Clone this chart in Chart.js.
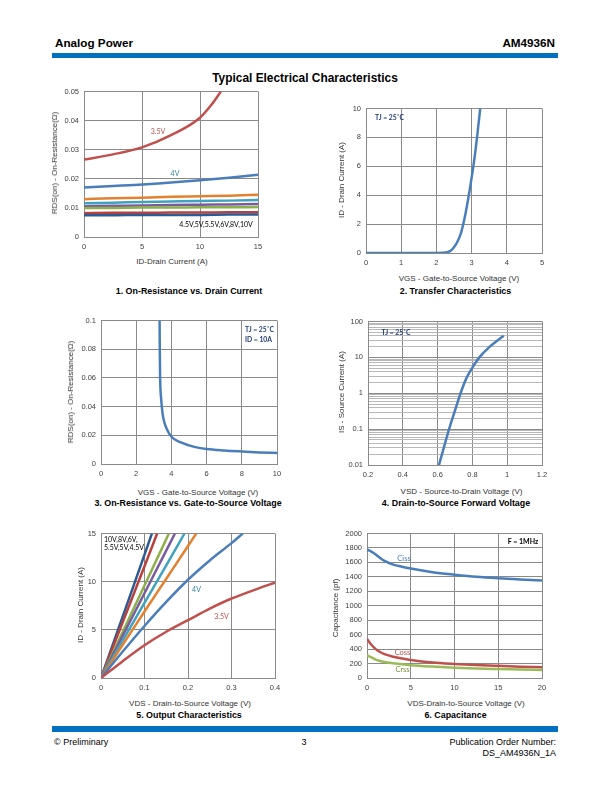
<!DOCTYPE html>
<html>
<head>
<meta charset="utf-8">
<script src="https://cdn.jsdelivr.net/npm/chart.js@4"></script>
<style>
  body { margin: 0; background: #fff; }
  #page { position: relative; width: 612px; height: 792px; overflow: hidden; font-family: "Liberation Sans", Arial, sans-serif; color: #000; }
  .t { position: absolute; white-space: nowrap; line-height: 1; }
  .bar { position: absolute; left: 52px; width: 506px; background: #0070C0; }
  canvas { position: absolute; }
</style>
</head>
<body>
<div id="page"></div>
<script>
// 🔹 DATA

// 1. On-Resistance vs. Drain Current
const idCurrent = [0, 2.5, 5, 7.5, 10, 12.5, 15];
const id35 = [0, 2.5, 5, 7.5, 10, 11, 11.8];
const rds35 = [0.0266, 0.0284, 0.0308, 0.0350, 0.0410, 0.0455, 0.0500];
const rds4 = [0.0170, 0.0175, 0.0180, 0.0187, 0.0195, 0.0204, 0.0214];
const rds45 = [0.0130, 0.0133, 0.0135, 0.0138, 0.0140, 0.0142, 0.0145];
const rds5 = [0.0116, 0.0118, 0.0120, 0.0122, 0.0124, 0.0125, 0.0127];
const rds55 = [0.0106, 0.0107, 0.0108, 0.0110, 0.0111, 0.0112, 0.0113];
const rds6 = [0.0100, 0.0100, 0.0101, 0.0101, 0.0102, 0.0102, 0.0103];
const rds8 = [0.0082, 0.0083, 0.0083, 0.0084, 0.0084, 0.0085, 0.0085];
const rds10 = [0.0075, 0.0075, 0.0076, 0.0076, 0.0076, 0.0077, 0.0077];

// 2. Transfer Characteristics
const vgsTransfer = [0, 1, 2, 2.2, 2.4, 2.5, 2.6, 2.7, 2.8, 2.9, 3.0, 3.1, 3.2, 3.245];
const idTransfer = [0, 0, 0, 0.01, 0.15, 0.4, 0.8, 1.4, 2.4, 3.7, 5.2, 6.9, 9.0, 10];

// 3. On-Resistance vs. Gate-to-Source Voltage
const vgsRds = [3.33, 3.34, 3.36, 3.42, 3.5, 3.6, 3.75, 4, 4.5, 5, 5.5, 6, 7, 8, 9, 10];
const rdsVgs = [0.1, 0.08, 0.06, 0.045, 0.035, 0.029, 0.024, 0.019, 0.0152, 0.0130, 0.0114, 0.0104, 0.0094, 0.0087, 0.0081, 0.0076];

// 4. Drain-to-Source Forward Voltage
const vsd = [0.608, 0.637, 0.666, 0.699, 0.732, 0.765, 0.8, 0.84, 0.9, 0.95, 0.98];
const isCurrent = [0.01, 0.032, 0.1, 0.32, 1, 2.6, 5.2, 10, 20, 31, 40];
const isDecades = [0.01, 0.1, 1, 10, 100];

// 5. Output Characteristics
const vds10 = [0, 0.05, 0.1, 0.117];
const out10 = [0, 6.4, 12.8, 15];
const vds8 = [0, 0.05, 0.1, 0.129];
const out8 = [0, 5.8, 11.6, 15];
const vds6 = [0, 0.05, 0.1, 0.156];
const out6 = [0, 4.8, 9.6, 15];
const vds55 = [0, 0.05, 0.1, 0.170];
const out55 = [0, 4.4, 8.8, 15];
const vds5 = [0, 0.05, 0.1, 0.15, 0.192];
const out5 = [0, 3.9, 7.8, 11.7, 15];
const vds45 = [0, 0.05, 0.1, 0.15, 0.2, 0.219];
const out45 = [0, 3.45, 6.9, 10.3, 13.7, 15];
const vds4 = [0, 0.05, 0.1, 0.15, 0.2, 0.25, 0.3, 0.326];
const out4 = [0, 2.75, 5.4, 7.9, 10.2, 12.2, 14.0, 15];
const vds35 = [0, 0.05, 0.1, 0.15, 0.2, 0.25, 0.3, 0.35, 0.4];
const out35 = [0, 1.75, 3.4, 4.8, 6.0, 7.2, 8.25, 9.1, 9.9];

// 6. Capacitance
const vdsCap = [0, 0.5, 1, 1.5, 2, 3, 4, 5, 7.5, 10, 12.5, 15, 17.5, 20];
const ciss = [1780, 1750, 1710, 1660, 1620, 1570, 1540, 1515, 1465, 1430, 1400, 1380, 1365, 1350];
const coss = [540, 460, 400, 360, 330, 295, 270, 250, 215, 195, 180, 168, 157, 148];
const crss = [315, 285, 255, 235, 222, 205, 190, 178, 158, 142, 130, 123, 117, 112];

// 🔹 STYLE
const FONT = "'Liberation Sans', Arial, sans-serif";
const NOTE = "Lato, 'Open Sans', sans-serif";
const GRID = "#8a8a8a";
const TICK = "#404040";
const page = document.getElementById("page");

const pts = (xs, ys) => xs.map((x, i) => ({ x, y: ys[i] }));
const ds = (xs, ys, color) => ({ data: pts(xs, ys), borderColor: color });
const fmt = v => String(Math.round(v * 1e6) / 1e6);
const isDecade = v => Math.abs(Math.log10(v) - Math.round(Math.log10(v))) < 1e-6;

function txt(s, x, y, css, anchor) {
  const d = document.createElement("div");
  d.className = "t";
  d.textContent = s;
  d.style.cssText += css || "";
  d.style.left = x + "px";
  d.style.top = y + "px";
  const tx = anchor === "left" ? "0" : anchor === "right" ? "-100%" : "-50%";
  d.style.transform = "translate(" + tx + ",-50%)" + (anchor === "rot" ? " rotate(-90deg)" : "");
  page.appendChild(d);
}

function axis(min, max, step) {
  return {
    type: "linear", min, max,
    grid: { color: GRID, drawTicks: false },
    border: { color: GRID },
    ticks: { stepSize: step, color: TICK, font: { family: FONT, size: 7.5 }, padding: 5, autoSkip: false, maxRotation: 0, callback: fmt }
  };
}

// plot box l,t,w,h = chart area in page pixels
function makeChart(box, datasets, x, y) {
  const c = document.createElement("canvas");
  const W = box.w + 52, H = box.h + 24;
  c.width = W; c.height = H;
  c.style.left = (box.l - 40) + "px";
  c.style.top = (box.t - 8) + "px";
  c.style.width = W + "px";
  c.style.height = H + "px";
  page.appendChild(c);
  x.afterFit = s => { s.height = 16; };
  y.afterFit = s => { s.width = 40; };
  new Chart(c, {
    type: "line",
    data: { datasets },
    options: {
      responsive: false,
      animation: false,
      devicePixelRatio: 1,
      layout: { padding: { top: 8, right: 12, left: 0, bottom: 0 } },
      plugins: { legend: { display: false }, tooltip: { enabled: false } },
      elements: { point: { radius: 0 }, line: { borderWidth: 2.5, cubicInterpolationMode: "monotone" } },
      scales: { x, y }
    }
  });
}

// 🔹 PAGE FRAME
txt("Analog Power", 55, 42.5, "font-weight:bold;font-size:11.7px;", "left");
txt("AM4936N", 555, 42.5, "font-weight:bold;font-size:11.7px;", "right");
const topBar = document.createElement("div");
topBar.className = "bar"; topBar.style.top = "53px"; topBar.style.height = "5px";
page.appendChild(topBar);
txt("Typical Electrical Characteristics", 305, 79, "font-weight:bold;font-size:11.9px;");

const botBar = document.createElement("div");
botBar.className = "bar"; botBar.style.top = "726px"; botBar.style.height = "6px";
page.appendChild(botBar);
txt("© Preliminary", 54, 741.5, "font-size:9px;", "left");
txt("3", 304, 741.5, "font-size:9px;");
txt("Publication Order Number:", 556, 741.5, "font-size:9px;", "right");
txt("DS_AM4936N_1A", 556, 752.5, "font-size:9px;", "right");

const axisCss = "font-size:8px;color:#333;";
const capCss = "font-weight:bold;font-size:8.9px;";

// 🔥 CHART 1
makeChart({ l: 84, t: 90, w: 174, h: 147 }, [
  ds(idCurrent, rds10, "#2C5A92"),
  ds(idCurrent, rds8, "#B8403D"),
  ds(idCurrent, rds6, "#8DB04A"),
  ds(idCurrent, rds55, "#7A5C9E"),
  ds(idCurrent, rds5, "#3FA3BE"),
  ds(idCurrent, rds45, "#E4812F"),
  ds(idCurrent, rds4, "#4A7EBB"),
  ds(id35, rds35, "#C0504D")
], axis(0, 15, 5), axis(0, 0.05, 0.01));
txt("RDS(on) - On-Resistance(Ω)", 55, 163, axisCss, "rot");
txt("ID-Drain Current (A)", 172, 262, axisCss);
txt("1. On-Resistance vs. Drain Current", 189, 291, capCss);
txt("3.5V", 158, 131, "font-family:" + NOTE + ";font-size:7px;color:#C0504D;");
txt("4V", 175, 172.5, "font-family:" + NOTE + ";font-size:7px;color:#31859C;");
txt("4.5V,5V,5.5V,6V,8V,10V", 216, 224, "font-family:" + NOTE + ";font-size:7px;");

// 🔥 CHART 2
makeChart({ l: 366, t: 107, w: 176, h: 146 }, [
  ds(vgsTransfer, idTransfer, "#4A7EBB")
], axis(0, 5, 1), axis(0, 10, 2));
txt("ID - Drain Current (A)", 341.5, 180, axisCss, "rot");
txt("VGS - Gate-to-Source Voltage (V)", 459, 279, axisCss);
txt("2. Transfer Characteristics", 455.5, 291, capCss);
txt("TJ = 25˚C", 375, 116.5, "font-family:" + NOTE + ";font-weight:bold;font-size:6.8px;color:#1F3D7A;", "left");

// 🔥 CHART 3
makeChart({ l: 101, t: 319, w: 176, h: 145 }, [
  ds(vgsRds, rdsVgs, "#4A7EBB")
], axis(0, 10, 2), axis(0, 0.1, 0.02));
txt("RDS(on) - On-Resistance(Ω)", 71, 392, axisCss, "rot");
txt("VGS - Gate-to-Source Voltage (V)", 198, 492.5, axisCss);
txt("3. On-Resistance vs. Gate-to-Source Voltage", 188, 503, capCss);
txt("TJ = 25˚C", 245, 329, "font-family:" + NOTE + ";font-weight:bold;font-size:6.8px;color:#1F3D7A;", "left");
txt("ID = 10A", 245, 338.5, "font-family:" + NOTE + ";font-weight:bold;font-size:6.8px;color:#1F3D7A;", "left");

// 🔥 CHART 4 (log)
const logTicks = [];
isDecades.forEach((d, i) => {
  if (i === isDecades.length - 1) { logTicks.push(d); return; }
  for (let m = 1; m <= 9; m++) logTicks.push(Math.round(d * m * 1e6) / 1e6);
});
const logY = {
  type: "logarithmic", min: 0.01, max: 100,
  afterBuildTicks: s => { s.ticks = logTicks.map(v => ({ value: v, major: isDecade(v) })); },
  grid: { drawTicks: false, color: c => (c.tick && isDecade(c.tick.value)) ? GRID : "#b8b8b8" },
  border: { color: GRID },
  ticks: { color: TICK, font: { family: FONT, size: 7.5 }, padding: 5, autoSkip: false, callback: v => isDecade(v) ? fmt(v) : "" }
};
makeChart({ l: 368, t: 320, w: 174, h: 145 }, [
  ds(vsd, isCurrent, "#4A7EBB")
], axis(0.2, 1.2, 0.2), logY);
txt("IS - Source Current (A)", 341.5, 392, axisCss, "rot");
txt("VSD - Source-to-Drain Voltage (V)", 461.5, 492, axisCss);
txt("4. Drain-to-Source Forward Voltage", 456, 503, capCss);
txt("TJ = 25˚C", 381.5, 331.5, "font-family:" + NOTE + ";font-weight:bold;font-size:6.8px;color:#1F3D7A;", "left");

// 🔥 CHART 5
makeChart({ l: 101, t: 532, w: 174, h: 146 }, [
  ds(vds35, out35, "#C0504D"),
  ds(vds4, out4, "#4A7EBB"),
  ds(vds45, out45, "#E4812F"),
  ds(vds5, out5, "#3FA3BE"),
  ds(vds55, out55, "#7A5C9E"),
  ds(vds6, out6, "#8DB04A"),
  ds(vds8, out8, "#B8403D"),
  ds(vds10, out10, "#2C5A92")
], axis(0, 0.4, 0.1), axis(0, 15, 5));
txt("ID - Drain Current (A)", 80.5, 605, axisCss, "rot");
txt("VDS - Drain-to-Source Voltage (V)", 190, 704, axisCss);
txt("5. Output Characteristics", 189, 715, capCss);
txt("10V,8V,6V,", 104, 538.5, "font-family:" + NOTE + ";font-size:7px;", "left");
txt("5.5V,5V,4.5V", 104, 547, "font-family:" + NOTE + ";font-size:7px;", "left");
txt("4V", 196.5, 588.5, "font-family:" + NOTE + ";font-size:7px;color:#31859C;");
txt("3.5V", 221.5, 615.5, "font-family:" + NOTE + ";font-size:7px;color:#C0504D;");

// 🔥 CHART 6
makeChart({ l: 367, t: 532, w: 175, h: 146 }, [
  ds(vdsCap, crss, "#9BBB59"),
  ds(vdsCap, coss, "#C0504D"),
  ds(vdsCap, ciss, "#4A7EBB")
], axis(0, 20, 5), axis(0, 2000, 200));
txt("Capacitance (pf)", 336, 608, axisCss, "rot");
txt("VDS-Drain-to-Source Voltage (V)", 466, 704, axisCss);
txt("6. Capacitance", 455.5, 715, capCss);
txt("F = 1MHz", 523, 540.5, "font-family:" + NOTE + ";font-weight:bold;font-size:7px;");
txt("Ciss", 404, 558.5, "font-family:" + NOTE + ";font-size:7.5px;color:#4A7EBB;");
txt("Coss", 402.5, 653, "font-family:" + NOTE + ";font-size:7.5px;color:#C0504D;");
txt("Crss", 402.5, 670, "font-family:" + NOTE + ";font-size:7.5px;color:#77933C;");
</script>
</body>
</html>
